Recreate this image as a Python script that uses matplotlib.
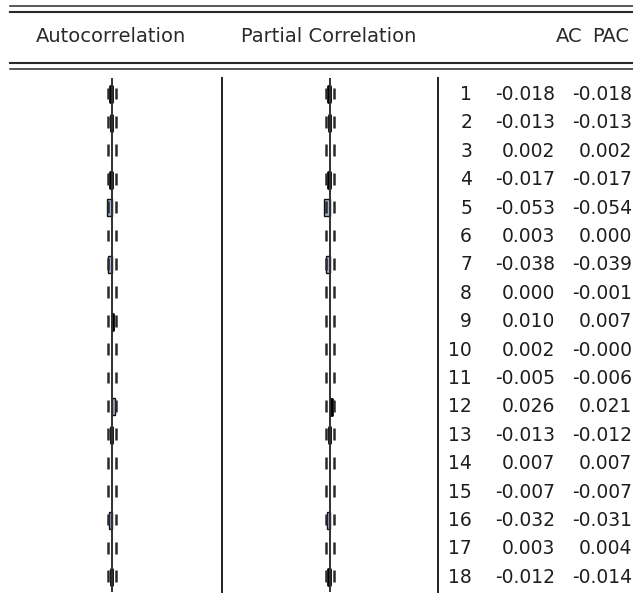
import matplotlib
matplotlib.use('Agg')
import matplotlib.pyplot as plt
from matplotlib.lines import Line2D
import numpy as np

# correlogram values
lags = np.arange(1, 19)
ac = [-0.018, -0.013, 0.002, -0.017, -0.053, 0.003, -0.038, 0.000, 0.010,
      0.002, -0.005, 0.026, -0.013, 0.007, -0.007, -0.032, 0.003, -0.012]
pac = [-0.018, -0.013, 0.002, -0.017, -0.054, 0.000, -0.039, -0.001, 0.007,
       -0.0, -0.006, 0.021, -0.012, 0.007, -0.007, -0.031, 0.004, -0.014]
conf_bound = 0.036
headers = ['Autocorrelation', 'Partial Correlation', 'AC', 'PAC']

W, H = 633, 600
fig = plt.figure(figsize=(W / 100, H / 100), dpi=100)
fig.patch.set_facecolor('white')

def px_box(x0, x1, y0, y1):
    return [x0 / W, 1 - y1 / H, (x1 - x0) / W, (y1 - y0) / H]

y_top, y_bot = 78, 592
row1, step = 93.5, 28.4
ylim = (1 + (y_bot - row1) / step, 1 - (row1 - y_top) / step)
px_per_unit = 108.0

def draw_panel(ax, vals):
    ax.set_xlim(-1, 1)
    ax.set_ylim(*ylim)
    ax.axis('off')
    ax.axvline(0, color='#303030', lw=1.4)
    for b in (-conf_bound, conf_bound):
        ax.vlines(np.full(len(lags), b), lags - 0.21, lags + 0.21,
                  color='#2a2a2a', lw=1.8)
    vals = np.array(vals)
    wpx = np.abs(vals) * px_per_unit
    show = wpx >= 1
    blob = show & (wpx < 2.5)
    box = show & (wpx >= 2.5)
    # small bars come out as solid black blobs, larger ones as outlined boxes
    ax.barh(lags[blob] + 0.03, vals[blob], height=0.56, color='black',
            edgecolor='black', lw=2.0, joinstyle='round')
    ax.barh(lags[box] + 0.03, vals[box], height=0.6, color='#aab2cf',
            edgecolor='#111111', lw=1.0)

ax_ac = fig.add_axes(px_box(4.3, 220.3, y_top, y_bot))
draw_panel(ax_ac, ac)
ax_pac = fig.add_axes(px_box(222, 438, y_top, y_bot))
draw_panel(ax_pac, pac)

# table columns
ax_tab = fig.add_axes(px_box(438, 633, y_top, y_bot))
ax_tab.set_xlim(438, 633)
ax_tab.set_ylim(*ylim)
ax_tab.axis('off')
font = dict(family='DejaVu Sans', size=13.5, color='#1e1e1e')
for k, a, p in zip(lags, ac, pac):
    ax_tab.text(472, k + 0.23, str(k), ha='right', va='baseline', **font)
    ax_tab.text(555, k + 0.23, f'{a:.3f}', ha='right', va='baseline', **font)
    ax_tab.text(632, k + 0.23, f'{p:.3f}', ha='right', va='baseline', **font)

# separators
for x in (222, 438):
    fig.add_artist(Line2D([x / W] * 2, [1 - y_top / H, 1 - y_bot / H],
                          color='#202020', lw=1.4))

# double rules
for y, lw in ((6, 1.1), (12.3, 1.5), (63.3, 1.5), (69.3, 1.1)):
    fig.add_artist(Line2D([10 / W, 1], [1 - y / H] * 2, color='#2a2a2a', lw=lw))

hfont = dict(family='DejaVu Sans', size=14, color='#2a2a2a', ha='center', va='center')
for txt, x in zip(headers, (111, 329, 569, 611)):
    fig.text(x / W, 1 - 37 / H, txt, **hfont)

fig.savefig('out.png', dpi=100, facecolor='white')
